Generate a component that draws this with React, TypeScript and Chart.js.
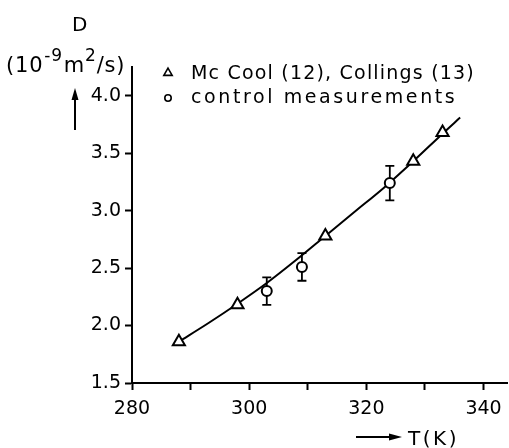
import React, { useEffect, useRef } from "react";
import { Chart, registerables } from "chart.js";

Chart.register(...registerables);

// McCool (12), Collings (13)
const mcT = [288, 298, 313, 328, 333];
const mcD = [1.86, 2.18, 2.78, 3.43, 3.68];
// control measurements
const ctrlT = [303, 309, 324];
const ctrlD = [2.3, 2.51, 3.24];
const ctrlErr = [0.12, 0.12, 0.15];
// fitted curve
const fitT = [288, 293, 298, 303, 308, 313, 318, 323, 328, 333, 336];
const fitD = [1.86, 2.02, 2.19, 2.37, 2.57, 2.78, 2.99, 3.2, 3.43, 3.67, 3.81];

const xTickLabels = [280, 300, 320, 340];
const yTickLabels = [1.5, 2.0, 2.5, 3.0, 3.5, 4.0];

const legendLabels = ["Mc Cool (12), Collings (13)", "control measurements"];
const FONT = '"DejaVu Sans", sans-serif';

const customPlugin = {
  id: "custom",
  beforeDatasetsDraw(chart: any) {
    const { ctx, scales } = chart;
    const xs = scales.x;
    const ys = scales.y;
    ctx.save();
    ctx.strokeStyle = "#000";
    ctx.lineWidth = 1.8;
    for (let i = 0; i < ctrlT.length; i++) {
      const px = xs.getPixelForValue(ctrlT[i]);
      const top = ys.getPixelForValue(ctrlD[i] + ctrlErr[i]);
      const bot = ys.getPixelForValue(ctrlD[i] - ctrlErr[i]);
      ctx.beginPath();
      ctx.moveTo(px, top);
      ctx.lineTo(px, bot);
      ctx.moveTo(px - 4.5, top);
      ctx.lineTo(px + 4.5, top);
      ctx.moveTo(px - 4.5, bot);
      ctx.lineTo(px + 4.5, bot);
      ctx.stroke();
    }
    ctx.restore();
  },
  afterDraw(chart: any) {
    const { ctx } = chart;
    ctx.save();
    ctx.fillStyle = "#000";
    ctx.strokeStyle = "#000";
    // legend markers
    ctx.lineWidth = 1.6;
    ctx.beginPath();
    const tx = 168, ty = 73, r = 4.8;
    ctx.moveTo(tx, ty - r);
    ctx.lineTo(tx + r * 0.87, ty + r * 0.5);
    ctx.lineTo(tx - r * 0.87, ty + r * 0.5);
    ctx.closePath();
    ctx.stroke();
    ctx.beginPath();
    ctx.arc(168, 98, 3.2, 0, Math.PI * 2);
    ctx.stroke();
    // legend text
    ctx.font = `19px ${FONT}`;
    ctx.textBaseline = "alphabetic";
    ctx.textAlign = "left";
    (ctx as any).letterSpacing = "1.2px";
    ctx.fillText(legendLabels[0], 191, 79);
    (ctx as any).letterSpacing = "2.6px";
    ctx.fillText(legendLabels[1], 191, 103);

    // y title
    (ctx as any).letterSpacing = "0.8px";
    ctx.textAlign = "center";
    ctx.font = `20px ${FONT}`;
    ctx.fillText("D", 80, 31);
    ctx.textAlign = "left";
    let x = 6;
    const base = 72;
    ctx.font = `21px ${FONT}`;
    ctx.fillText("(10", x, base);
    x += ctx.measureText("(10").width + 1;
    ctx.font = `17px ${FONT}`;
    ctx.fillText("-9", x, base - 11);
    x += ctx.measureText("-9").width + 1;
    ctx.font = `21px ${FONT}`;
    ctx.fillText("m", x, base);
    x += ctx.measureText("m").width;
    ctx.font = `17px ${FONT}`;
    ctx.fillText("2", x, base - 11);
    x += ctx.measureText("2").width;
    ctx.font = `21px ${FONT}`;
    ctx.fillText("/s)", x, base);

    // up arrow
    ctx.lineWidth = 2;
    ctx.beginPath();
    ctx.moveTo(75, 130);
    ctx.lineTo(75, 96);
    ctx.stroke();
    ctx.beginPath();
    ctx.moveTo(75, 88);
    ctx.lineTo(71.5, 100);
    ctx.lineTo(78.5, 100);
    ctx.closePath();
    ctx.fill();

    // x title with arrow
    ctx.beginPath();
    ctx.moveTo(356, 437);
    ctx.lineTo(392, 437);
    ctx.stroke();
    ctx.beginPath();
    ctx.moveTo(402, 437);
    ctx.lineTo(389, 433.5);
    ctx.lineTo(389, 440.5);
    ctx.closePath();
    ctx.fill();
    (ctx as any).letterSpacing = "2.5px";
    ctx.font = `20px ${FONT}`;
    ctx.textBaseline = "alphabetic";
    ctx.fillText("T(K)", 408, 445);
    ctx.restore();
  },
};

export default function App() {
  const ref = useRef<HTMLCanvasElement | null>(null);
  useEffect(() => {
    if (!ref.current) return;
    const chart = new Chart(ref.current, {
      type: "scatter",
      data: {
        datasets: [
          {
            label: legendLabels[0],
            data: mcT.map((t, i) => ({ x: t, y: mcD[i] })),
            pointStyle: "triangle",
            pointRadius: 7,
            pointBorderWidth: 2,
            pointBackgroundColor: "#fff",
            pointBorderColor: "#000",
            showLine: false,
          },
          {
            label: legendLabels[1],
            data: ctrlT.map((t, i) => ({ x: t, y: ctrlD[i] })),
            pointStyle: "circle",
            pointRadius: 5,
            pointBorderWidth: 2,
            pointBackgroundColor: "#fff",
            pointBorderColor: "#000",
            showLine: false,
          },
          {
            label: "fit",
            data: fitT.map((t, i) => ({ x: t, y: fitD[i] })),
            showLine: true,
            borderColor: "#000",
            borderWidth: 2,
            pointRadius: 0,
            cubicInterpolationMode: "monotone",
          },
        ],
      },
      options: {
        responsive: false,
        animation: false,
        layout: { autoPadding: false, padding: { left: 0, top: 67, right: 2, bottom: 0 } },
        plugins: {
          legend: { display: false },
          tooltip: { enabled: false },
        },
        scales: {
          x: {
            type: "linear",
            min: 280,
            max: 344,
            border: { display: true, color: "#000", width: 2 },
            grid: {
              display: true,
              drawOnChartArea: false,
              drawTicks: true,
              tickLength: 7,
              tickWidth: 2,
              color: "#000",
            },
            ticks: {
              stepSize: 10,
              includeBounds: false,
              color: "#000",
              padding: 8,
              maxRotation: 0,
              autoSkip: false,
              font: { family: FONT, size: 19 },
              callback: (v: any) => (xTickLabels.includes(Number(v)) ? String(v) : ""),
            },
            afterFit: (s: any) => {
              s.height = 65;
              s.paddingLeft = 0;
              s.paddingRight = 0;
            },
          },
          y: {
            type: "linear",
            min: 1.5,
            max: 4.25,
            border: { display: true, color: "#000", width: 2 },
            grid: {
              display: true,
              drawOnChartArea: false,
              drawTicks: true,
              tickLength: 7,
              tickWidth: 2,
              color: "#000",
            },
            ticks: {
              stepSize: 0.5,
              includeBounds: false,
              color: "#000",
              padding: 4,
              autoSkip: false,
              font: { family: FONT, size: 19 },
              callback: (v: any) =>
                yTickLabels.some((t) => Math.abs(t - Number(v)) < 1e-6) ? Number(v).toFixed(1) : "",
            },
            afterFit: (s: any) => {
              s.width = 132;
              s.paddingTop = 0;
              s.paddingBottom = 0;
            },
          },
        },
      },
      plugins: [customPlugin],
    } as any);
    return () => chart.destroy();
  }, []);
  return (
    <div style={{ position: "absolute", left: 0, top: 0, width: 509, height: 448, background: "#fff" }}>
      <canvas ref={ref} width={509} height={448} />
    </div>
  );
}
